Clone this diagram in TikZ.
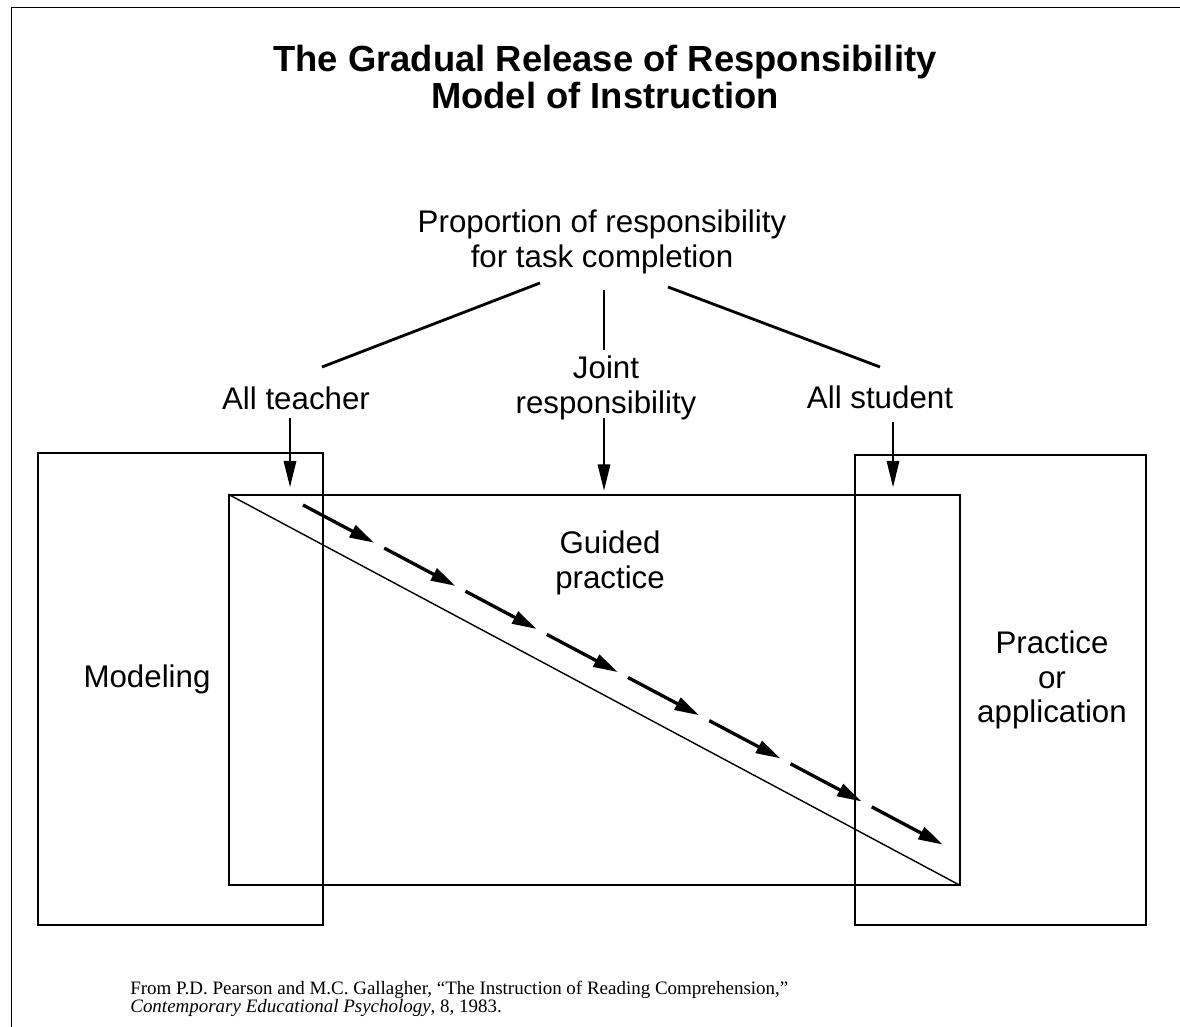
\documentclass[tikz,border=0pt]{standalone}
\usepackage{fontspec}
\setmainfont{Liberation Sans}
\newfontfamily\capfont{Liberation Serif}
\usetikzlibrary{arrows.meta,calc}
\tikzstyle{box} = [draw, line width=0.8pt, inner sep=0pt]
\tikzstyle{txt} = [align=center, inner sep=0pt, font=\fontsize{17.8}{19.6}\selectfont]
\tikzstyle{link} = [line width=1.6pt]
\tikzstyle{arrowdown} = [-{Triangle[length=15pt,width=7pt]}, line width=1.3pt]
\tikzstyle{flowarrow} = [-{Triangle[length=14pt,width=7.5pt]}, line width=1.9pt]

\begin{document}
\begin{tikzpicture}[x=0.02cm, y=-0.02cm]
    \useasboundingbox (0,0) rectangle (1180,1027);
    \draw[line width=0.5pt] (1180,7) -- (11,7) -- (11,1027);

    \node[align=center, inner sep=0pt, font=\bfseries\fontsize{20.7}{21}\selectfont] (title) at (605,77)
        {The Gradual Release of Responsibility\\Model of Instruction};

    % boxes
    \node[box, minimum width=5.7cm, minimum height=9.44cm] (model) at (180.5,689) {};
    \node[box, minimum width=14.62cm, minimum height=7.8cm] (guided) at (594.5,690) {};
    \node[box, minimum width=5.82cm, minimum height=9.4cm] (apply) at (1000.5,690) {};

    % labels
    \node[txt] (prop) at (602,242) {Proportion of responsibility\\for task completion};
    \node[txt] (teacher) at (296,398) {All teacher};
    \node[txt] (joint) at (606,388) {Joint\\responsibility};
    \node[txt] (student) at (880,397) {All student};
    \node[txt] (gtext) at (610,563) {Guided\\practice};
    \node[txt] (mtext) at (147,679) {Modeling};
    \node[txt] (atext) at (1052,680) {Practice\\or\\application};

    \coordinate (pl) at (540,283);
    \coordinate (pm) at (604,290);
    \coordinate (pr) at (668,287);
    \coordinate (tl) at (322,367);
    \coordinate (tm) at (604,350);
    \coordinate (tr) at (880,367);
    \draw[link] (pl) -- (tl);
    \draw[link] (pm) -- (tm);
    \draw[link] (pr) -- (tr);

    \coordinate (ta) at (290,418);
    \coordinate (ja) at (604,418);
    \coordinate (sa) at (893,422);
    \draw[arrowdown, shorten >=4pt] (ta) -- (ta |- guided.north);
    \draw[arrowdown, shorten >=2pt] (ja) -- (ja |- guided.north);
    \draw[arrowdown, shorten >=4pt] (sa) -- (sa |- guided.north);

    \draw[line width=0.8pt] (guided.north west) -- (guided.south east);

    \coordinate (da) at (303,505);
    \coordinate (db) at (953,850);
    \foreach \i in {0,...,7}
        \draw[flowarrow] ($(da)!{\i/8}!(db)$) -- ($(da)!{(\i+0.875)/8}!(db)$);

    \node[anchor=west, align=left, inner sep=0pt, font=\capfont\fontsize{10.8}{10.3}\selectfont] (source) at (130,999)
        {From P.D. Pearson and M.C. Gallagher, “The Instruction of Reading Comprehension,”\\
         \textit{Contemporary Educational Psychology}, 8, 1983.};
\end{tikzpicture}
\end{document}
